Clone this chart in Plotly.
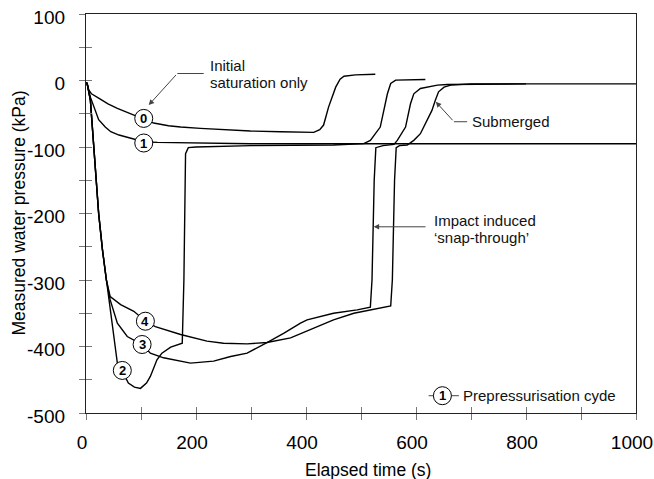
import plotly.graph_objects as go

# ---- data ----
t0 = [0, 2, 5, 10, 26, 40, 57, 75, 90, 105, 123, 150, 172, 208, 250, 299, 354, 414, 425, 432, 441, 454, 462, 469, 490, 526]
p0 = [-3, -5, -14, -20, -28, -35, -42, -48, -53, -57, -64, -68, -70, -72, -74, -76, -77, -78, -74, -67, -40, -10, 2, 6.5, 8.5, 9.5]

t1 = [0, 2, 8, 14, 23, 35, 45, 60, 81, 105, 130, 208, 300, 445, 600, 800, 1000]
p1 = [-3, -5, -25, -40, -59, -70, -77, -82, -87, -92, -93, -94, -95, -95, -95, -95, -95]

t2 = [0, 2, 8, 15, 23, 30, 37, 45, 57, 66, 77, 88, 99, 110, 117, 129, 138, 154, 175, 178, 181, 186, 200, 300, 450, 505, 517, 535, 548, 554, 563, 617]
p2 = [-3, -4, -30, -110, -200, -255, -300, -355, -425, -437, -455, -461, -463, -455, -445, -420, -410, -401, -395, -300, -110, -101, -100, -98, -97, -95, -90, -70, -20, -4.5, 0.5, 1.5]

t3 = [0, 2, 8, 15, 23, 30, 37, 44, 57, 75, 102, 117, 141, 190, 232, 263, 293, 329, 360, 390, 402, 450, 493, 517, 520, 524, 527, 540, 560, 566, 581, 590, 596, 608, 620, 639, 657, 800]
p3 = [-3, -4, -30, -110, -200, -255, -300, -330, -365, -385, -397, -410, -417, -425, -422, -415, -410, -394, -380, -365, -360, -350, -345, -341, -300, -150, -101, -98, -96, -90, -70, -35, -20, -12, -10, -7, -6, -5]

t4 = [0, 2, 8, 15, 23, 30, 37, 44, 63, 87, 108, 126, 172, 220, 250, 293, 329, 372, 408, 450, 487, 517, 554, 557, 561, 564, 570, 584, 596, 608, 620, 629, 635, 641, 651, 663, 700, 1000]
p4 = [-3, -4, -30, -110, -200, -255, -300, -325, -337, -347, -362, -370, -382, -392, -395, -396, -394, -387, -375, -360, -350, -345, -339, -300, -150, -101, -98, -97, -90, -80, -60, -45, -30, -17, -10, -7, -5, -5]

series = [(t0, p0), (t1, p1), (t2, p2), (t3, p3), (t4, p4)]

# curve label markers (cycle number, time, pressure)
label_ids = ["0", "1", "2", "3", "4"]
label_t = [105, 105, 66, 102, 108]
label_p = [-57, -94, -436, -397, -362]

x_tickvals = list(range(0, 1001, 100))
x_ticktext = ["0", "", "200", "", "400", "", "600", "", "800", "", "1000"]
y_tickvals = list(range(-500, 101, 50))
y_ticktext = ["-500", "", "-400", "", "-300", "", "-200", "", "-100", "", "0", "", "100"]

FONT = "Liberation Sans, Arial, sans-serif"
BLACK = "#000000"
GREY = "#444444"

fig = go.Figure()
for t, p in series:
    fig.add_trace(go.Scatter(x=t, y=p, mode="lines", line=dict(color=BLACK, width=1.4),
                             hoverinfo="skip", showlegend=False))
# dummy trace to realise the overlay axes (inside ticks)
fig.add_trace(go.Scatter(x=[None], y=[None], xaxis="x2", yaxis="y2", showlegend=False, hoverinfo="skip"))

tickfont = dict(family=FONT, size=19, color=BLACK)
fig.update_layout(
    width=654, height=479,
    margin=dict(l=86, r=18, t=14, b=66, autoexpand=False),
    paper_bgcolor="white", plot_bgcolor="white",
    showlegend=False,
    xaxis=dict(range=[0, 1000], tickmode="array", tickvals=x_tickvals, ticktext=x_ticktext,
               ticks="outside", ticklen=6, tickwidth=1, tickcolor="#777777", automargin=False,
               showgrid=False, zeroline=False, showline=True, linecolor="#222222", linewidth=1.3,
               mirror=True, tickfont=tickfont, ticklabelstandoff=6, ticklabelshift=-4,
               ticklabeloverflow="allow"),
    yaxis=dict(range=[-500, 100], tickmode="array", tickvals=y_tickvals, ticktext=y_ticktext,
               ticks="outside", ticklen=6, tickwidth=1, tickcolor="#777777", automargin=False,
               showgrid=False, zeroline=False, showline=True, linecolor="#222222", linewidth=1.3,
               mirror=True, tickfont=tickfont, ticklabelstandoff=10, ticklabelshift=3,
               ticklabeloverflow="allow"),
    xaxis2=dict(range=[0, 1000], overlaying="x", anchor="y", side="bottom", tickmode="array",
                tickvals=x_tickvals, ticks="inside", ticklen=6, tickwidth=1, tickcolor="#777777",
                showticklabels=False, showgrid=False, zeroline=False, showline=False, automargin=False),
    yaxis2=dict(range=[-500, 100], overlaying="y", anchor="x", side="left", tickmode="array",
                tickvals=y_tickvals, ticks="inside", ticklen=6, tickwidth=1, tickcolor="#777777",
                showticklabels=False, showgrid=False, zeroline=False, showline=False, automargin=False),
)

ann = []
shapes = []
txt = dict(family=FONT, size=15, color="#111111")

# axis titles
ann.append(dict(text="Elapsed time (s)", xref="paper", yref="paper", x=0.513, y=0, yshift=-57,
                xanchor="center", yanchor="middle", showarrow=False,
                font=dict(family=FONT, size=17.5, color=BLACK)))
ann.append(dict(text="Measured water pressure (kPa)", xref="paper", yref="paper", x=0, xshift=-68,
                y=0.5, xanchor="center", yanchor="middle", textangle=-90, showarrow=False,
                font=dict(family=FONT, size=17.5, color=BLACK)))

# curve labels (circles with numbers)
for lid, lt, lp in zip(label_ids, label_t, label_p):
    shapes.append(dict(type="circle", xref="x", yref="y", xsizemode="pixel", ysizemode="pixel",
                       xanchor=lt, yanchor=lp, x0=-9, x1=9, y0=-9, y1=9,
                       fillcolor="white", line=dict(color=BLACK, width=1), layer="above"))
    ann.append(dict(text="<b>" + lid + "</b>", x=lt, y=lp, xref="x", yref="y", showarrow=False,
                    font=dict(family=FONT, size=13, color=BLACK)))

# Initial saturation only
ann.append(dict(text="Initial", x=222, y=23, xref="x", yref="y", xanchor="left", yanchor="middle",
                showarrow=False, font=txt))
ann.append(dict(text="saturation only", x=222, y=-2.5, xref="x", yref="y", xanchor="left",
                yanchor="middle", showarrow=False, font=txt))
shapes.append(dict(type="line", xref="x", yref="y", x0=166, x1=214, y0=10.5, y1=10.5,
                   line=dict(color=GREY, width=1)))
ann.append(dict(text="", x=114, y=-37, ax=166, ay=10.5, axref="x", ayref="y", xref="x", yref="y",
                showarrow=True, arrowhead=2, arrowsize=1.1, arrowwidth=1, arrowcolor=GREY))

# Submerged
ann.append(dict(text="Submerged", x=698, y=-62, xref="x", yref="y", xanchor="left", yanchor="middle",
                showarrow=False, font=txt))
shapes.append(dict(type="line", xref="x", yref="y", x0=669, x1=693, y0=-62, y1=-62,
                   line=dict(color=GREY, width=1)))
ann.append(dict(text="", x=636, y=-32, ax=669, ay=-62, axref="x", ayref="y", xref="x", yref="y",
                showarrow=True, arrowhead=2, arrowsize=1.1, arrowwidth=1, arrowcolor=GREY))

# Impact induced snap-through
ann.append(dict(text="Impact induced", x=629, y=-211, xref="x", yref="y", xanchor="left",
                yanchor="middle", showarrow=False, font=txt))
ann.append(dict(text="\u2018snap-through\u2019", x=629, y=-236, xref="x", yref="y", xanchor="left",
                yanchor="middle", showarrow=False, font=txt))
ann.append(dict(text="", x=523, y=-220, ax=620, ay=-220, axref="x", ayref="y", xref="x", yref="y",
                showarrow=True, arrowhead=2, arrowsize=1.1, arrowwidth=1, arrowcolor=GREY))

# key: prepressurisation cycle
shapes.append(dict(type="line", xref="x", yref="y", x0=623, x1=678, y0=-474, y1=-474,
                   line=dict(color=GREY, width=1)))
shapes.append(dict(type="circle", xref="x", yref="y", xsizemode="pixel", ysizemode="pixel",
                   xanchor=648, yanchor=-474, x0=-9, x1=9, y0=-9, y1=9,
                   fillcolor="white", line=dict(color=BLACK, width=1), layer="above"))
ann.append(dict(text="<b>1</b>", x=648, y=-474, xref="x", yref="y", showarrow=False,
                font=dict(family=FONT, size=13, color=BLACK)))
ann.append(dict(text="Prepressurisation cyde", x=681, y=-474, xref="x", yref="y", xanchor="left",
                yanchor="middle", showarrow=False, font=txt, bgcolor="white"))

fig.update_layout(annotations=ann, shapes=shapes)
# remove the default page margin so the 654x479 figure fills the window exactly
fig.write_html("out.html", config={"displayModeBar": False},
               post_script="document.body.style.margin='0';document.body.style.overflow='hidden';")
